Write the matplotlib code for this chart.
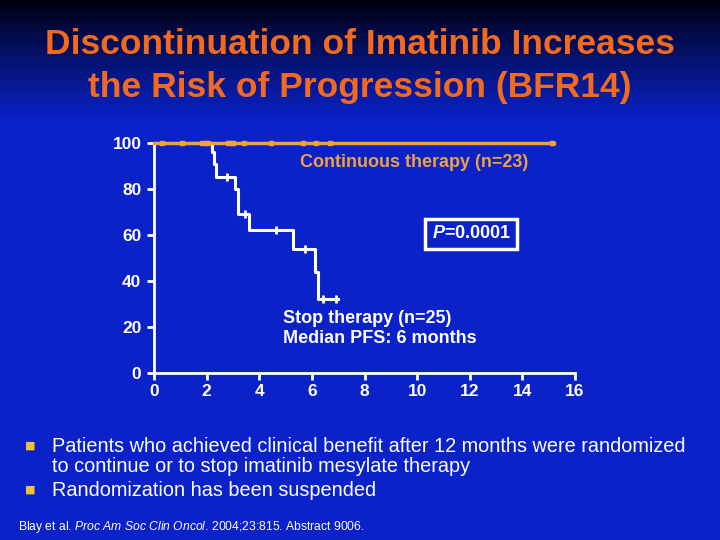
import numpy as np
import matplotlib
matplotlib.use('Agg')
import matplotlib.pyplot as plt

# Kaplan-Meier style data (months, % progression-free)
cont_x = [0.0, 15.2]
cont_y = [100, 100]
cont_cens = [0.29, 1.05, 1.83, 1.98, 2.07, 2.83, 2.92, 3.02, 3.42, 4.43, 5.67, 6.16, 6.69, 15.12]

stop_times = [0.0, 2.19, 2.28, 2.35, 3.08, 3.19, 3.6, 5.29, 6.12, 6.22, 7.0]
stop_surv = [100, 96, 91, 85, 80, 69, 62, 54, 44, 32, 32]
stop_cens_x = [2.76, 3.45, 4.63, 5.75, 6.43, 6.92]
stop_cens_y = [85, 69, 62, 54, 32, 32]

xticks = [0, 2, 4, 6, 8, 10, 12, 14, 16]
yticks = [0, 20, 40, 60, 80, 100]

sans = 'Liberation Sans'
ORANGE_T = '#F26A1E'
ORANGE_L = '#F0A040'
BLUE = '#0A22C8'

# italic bits of mathtext in the same family as the rest of the slide
plt.rcParams['mathtext.fontset'] = 'custom'
plt.rcParams['mathtext.it'] = 'Liberation Sans:italic'
plt.rcParams['mathtext.bf'] = 'Liberation Sans:bold'
if 'mathtext.bfit' in plt.rcParams:
    plt.rcParams['mathtext.bfit'] = 'Liberation Sans:italic:bold'

fig = plt.figure(figsize=(7.2, 5.4), dpi=100)

# background gradient: dark at top fading into royal blue
bg = fig.add_axes([0, 0, 1, 1])
bg.set_axis_off()
t = np.clip(np.arange(540) / 120.0, 0, 1) ** 0.9
top = np.array([0.0, 0.0, 0.05])
base = np.array([10, 34, 200]) / 255.0
img = top[None, :] * (1 - t[:, None]) + base[None, :] * t[:, None]
img = np.repeat(img[:, None, :], 720, axis=1)
bg.imshow(img, aspect='auto', extent=[0, 1, 0, 1], origin='upper')
bg.set_xlim(0, 1)
bg.set_ylim(0, 1)

# title
for txt, yy in [('Discontinuation of Imatinib Increases', 45),
                ('the Risk of Progression (BFR14)', 88)]:
    fig.text(0.5, 1 - yy / 540, txt, ha='center', va='center',
             color=ORANGE_T, fontsize=25.5, fontweight='bold', family=sans)

# plot axes
ax = fig.add_axes([154 / 720, 1 - 372.7 / 540, (575 - 154) / 720, (372.7 - 143) / 540])
ax.patch.set_alpha(0)
ax.set_xlim(0, 16)
ax.set_ylim(0, 100)
for s in ['top', 'right']:
    ax.spines[s].set_visible(False)
for s in ['left', 'bottom']:
    ax.spines[s].set_color('white')
    ax.spines[s].set_linewidth(2)
ax.set_xticks(xticks)
ax.set_yticks(yticks)
ax.tick_params(colors='white', width=2, length=5, labelsize=12.5)
ax.tick_params(axis='x', pad=3)
ax.tick_params(axis='y', pad=4)
for lab in ax.get_xticklabels() + ax.get_yticklabels():
    lab.set_fontweight('bold')
    lab.set_family(sans)
    lab.set_color('white')

ax.plot(cont_x, cont_y, color=ORANGE_L, lw=2.5, clip_on=False, zorder=3)
ax.plot(cont_cens, [100] * len(cont_cens), ls='none', marker='s', ms=3.5,
        color=ORANGE_L, clip_on=False, zorder=4)

ax.step(stop_times, stop_surv, where='post', color='white', lw=2.2, clip_on=False, zorder=2)
ax.plot(stop_cens_x, stop_cens_y, ls='none', marker='|', ms=6, mew=2,
        color='white', clip_on=False, zorder=4)

ax.text(9.9, 91.5, 'Continuous therapy (n=23)', ha='center', va='center',
        color=ORANGE_L, fontsize=13, fontweight='bold', family=sans)
ax.text(12.05, 60.5, r'$\mathbfit{P}$=0.0001', ha='center', va='center',
        color='white', fontsize=13, fontweight='bold', family=sans,
        bbox=dict(boxstyle='square,pad=0.35', facecolor=BLUE, edgecolor='white', linewidth=2.5))
ax.text(4.9, 19.2, 'Stop therapy (n=25)\nMedian PFS: 6 months', ha='left', va='center',
        color='white', fontsize=13, fontweight='bold', family=sans, linespacing=1.2)

# bullets
for yb in [446, 490]:
    fig.text(30 / 720, 1 - yb / 540, '\u25A0', ha='center', va='center', color='#F2C230',
             fontsize=8, family='DejaVu Sans')
for txt, yy in [('Patients who achieved clinical benefit after 12 months were randomized', 446),
                ('to continue or to stop imatinib mesylate therapy', 466),
                ('Randomization has been suspended', 490)]:
    fig.text(52 / 720, 1 - yy / 540, txt, ha='left', va='center',
             color='white', fontsize=14.3, family=sans)

fig.text(18 / 720, 1 - 527 / 540,
         r'Blay et al. $\it{Proc\ Am\ Soc\ Clin\ Oncol}$. 2004;23:815. Abstract 9006.',
         ha='left', va='center', color='white', fontsize=8.7, family=sans)

fig.savefig('out.png', dpi=100, facecolor=BLUE)
